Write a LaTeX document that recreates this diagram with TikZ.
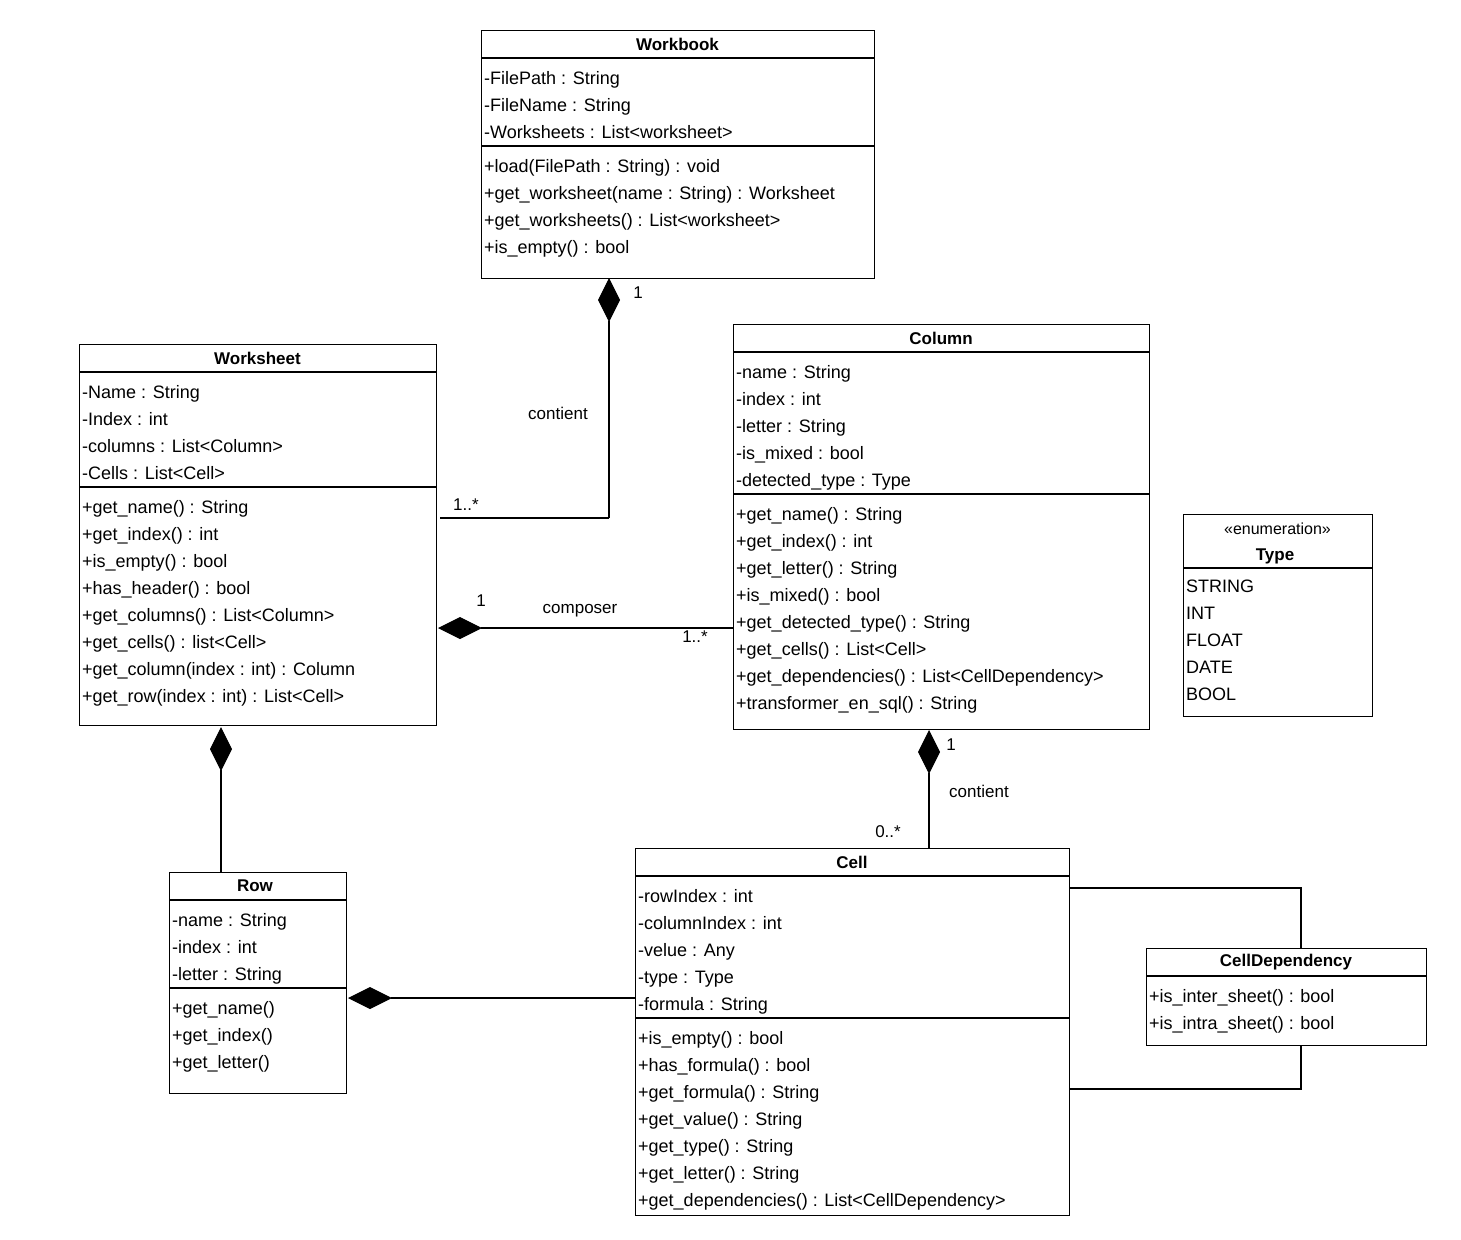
\documentclass[tikz,border=0pt]{standalone}
\usepackage{fontspec}
\setmainfont{Liberation Sans}
\usetikzlibrary{arrows.meta}

\tikzset{
  classbox/.style={draw, line width=1.1pt, anchor=north west, inner sep=0pt},
  classtitle/.style={font=\fontsize{17}{20}\selectfont\bfseries, inner sep=0pt},
  members/.style={anchor=north west, align=left, inner sep=0pt, font=\fontsize{18}{27}\selectfont},
  lbl/.style={font=\fontsize{17}{20}\selectfont, inner sep=0pt},
  compose/.style={line width=1.1pt, -{Diamond[length=44pt,width=22pt]}},
  link/.style={line width=1.1pt}
}

\begin{document}
\begin{tikzpicture}[x=1pt, y=-1pt]
\useasboundingbox (0,0) rectangle (1461,1239);

% Workbook
\node[classbox, minimum width=393pt, minimum height=248pt] (workbook) at (481,30) {};
\draw[link] (481,58) -- (874,58); \draw[link] (481,146) -- (874,146);
\node[classtitle] (workbooktitle) at (677.5,44) {Workbook};
\node[members] (workbookattr) at (484,71) {-FilePath : String\\-FileName : String\\-Worksheets : List<worksheet>};
\node[members] (workbookops) at (484,159) {+load(FilePath : String) : void\\+get\_worksheet(name : String) : Worksheet\\+get\_worksheets() : List<worksheet>\\+is\_empty() : bool};

% Worksheet
\node[classbox, minimum width=357pt, minimum height=381pt] (worksheet) at (79,344) {};
\draw[link] (79,372) -- (436,372); \draw[link] (79,487) -- (436,487);
\node[classtitle] (worksheettitle) at (257.5,358) {Worksheet};
\node[members] (worksheetattr) at (82,385) {-Name : String\\-Index : int\\-columns : List<Column>\\-Cells : List<Cell>};
\node[members] (worksheetops) at (82,500) {+get\_name() : String\\+get\_index() : int\\+is\_empty() : bool\\+has\_header() : bool\\+get\_columns() : List<Column>\\+get\_cells() : list<Cell>\\+get\_column(index : int) : Column\\+get\_row(index : int) : List<Cell>};

% Column
\node[classbox, minimum width=416pt, minimum height=405pt] (column) at (733,324) {};
\draw[link] (733,352) -- (1149,352); \draw[link] (733,494) -- (1149,494);
\node[classtitle] (columntitle) at (941,338) {Column};
\node[members] (columnattr) at (736,365) {-name : String\\-index : int\\-letter : String\\-is\_mixed : bool\\-detected\_type : Type};
\node[members] (columnops) at (736,507) {+get\_name() : String\\+get\_index() : int\\+get\_letter() : String\\+is\_mixed() : bool\\+get\_detected\_type() : String\\+get\_cells() : List<Cell>\\+get\_dependencies() : List<CellDependency>\\+transformer\_en\_sql() : String};

% Type
\node[classbox, minimum width=189pt, minimum height=202pt] (type) at (1183,514) {};
\draw[link] (1183,568) -- (1372,568);
\node[lbl, font=\fontsize{16}{20}\selectfont] (typestereo) at (1277.5,529) {<<enumeration>>};
\node[classtitle] (typetitle) at (1275,556) {Type};
\node[members] (typeitems) at (1186,580) {STRING\\INT\\FLOAT\\DATE\\BOOL};

% Row
\node[classbox, minimum width=177pt, minimum height=221pt] (row) at (169,872) {};
\draw[link] (169,900) -- (346,900); \draw[link] (169,988) -- (346,988);
\node[classtitle] (rowtitle) at (255,886) {Row};
\node[members] (rowattr) at (172,913) {-name : String\\-index : int\\-letter : String};
\node[members] (rowops) at (172,1001) {+get\_name()\\+get\_index()\\+get\_letter()};

% Cell
\node[classbox, minimum width=434pt, minimum height=367pt] (cell) at (635,848) {};
\draw[link] (635,876) -- (1069,876); \draw[link] (635,1018) -- (1069,1018);
\node[classtitle] (celltitle) at (852,862) {Cell};
\node[members] (cellattr) at (638,889) {-rowIndex : int\\-columnIndex : int\\-velue : Any\\-type : Type\\-formula : String};
\node[members] (cellops) at (638,1031) {+is\_empty() : bool\\+has\_formula() : bool\\+get\_formula() : String\\+get\_value() : String\\+get\_type() : String\\+get\_letter() : String\\+get\_dependencies() : List<CellDependency>};

% CellDependency
\node[classbox, minimum width=280pt, minimum height=97pt] (celldep) at (1146,948) {};
\draw[link] (1146,976) -- (1426,976);
\node[classtitle] (celldeptitle) at (1286,962) {CellDependency};
\node[members] (celldepops) at (1149,989) {+is\_inter\_sheet() : bool\\+is\_intra\_sheet() : bool};

% connectors
\coordinate (wbjoin) at (609,518);
\coordinate (wsend) at (440,518);
\draw[compose] (wbjoin) -- (609,278);
\draw[link] (wbjoin) -- (wsend);
\node[lbl] (wbone) at (638,293) {1};
\node[lbl] (wbcontient) at (558,413) {contient};
\node[lbl] (wsmany) at (466,505) {1..*};

\draw[compose] (733,628) -- (438,628);
\node[lbl] (wsone) at (481,601) {1};
\node[lbl] (wscomposer) at (580,611) {composer};
\node[lbl] (colmany) at (695,637) {1..*};

\draw[compose] (221,872) -- (221,727);

\draw[compose] (929,848) -- (929,730);
\node[lbl] (colone) at (951,745) {1};
\node[lbl] (colcontient) at (979,791) {contient};
\node[lbl] (cellmany) at (888,832) {0..*};

\draw[compose] (635,998) -- (348,998);

\draw[link] (1069,888) -- (1301,888) -- (1301,948);
\draw[link] (1069,1089) -- (1301,1089) -- (1301,1045);
\end{tikzpicture}
\end{document}
